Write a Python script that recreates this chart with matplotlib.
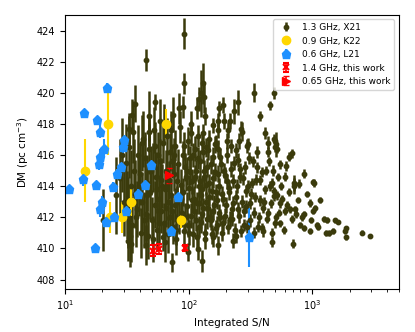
import matplotlib
matplotlib.use("Agg")
import matplotlib.pyplot as plt

# 1.3 GHz, X21 (S/N, DM, DM error)
x21_sn = [
    28, 30, 31, 32, 33, 34, 35, 36, 37, 38, 39, 40, 41, 42, 43, 44, 45, 46, 47, 48,
    49, 50, 51, 52, 53, 54, 55, 56, 57, 58, 59, 60,
    61, 62, 63, 64, 65, 66, 67, 68, 69, 70, 71, 72, 73, 74, 75, 76, 77, 78, 79, 80,
    82, 84, 85, 86, 88, 89, 90, 92, 93, 95, 96, 98, 99, 100, 102, 104, 105, 107, 108,
    110, 112, 114, 115, 117, 118, 120,
    122, 124, 126, 128, 130, 133, 135, 138, 140, 142, 145, 147, 150, 153, 156, 158,
    162, 165, 168, 172, 175, 178, 182, 186, 190, 195, 200, 205, 210, 215, 220, 225,
    230, 236, 242, 248,
    255, 262, 270, 278, 285, 292, 300, 310, 320, 330, 340, 350, 362, 375, 388, 400,
    415, 430, 445, 460, 475, 495, 515, 535, 560, 585,
    620, 650, 680, 720, 760, 800, 850, 900, 980, 1050, 1120,
    # outliers and edges
    91.6, 44.8, 91.6, 53.7, 90, 37, 34.8, 32.8, 48, 105, 122,
    339, 492, 454, 380, 248, 188, 176, 232, 192, 171, 157, 172, 208, 270, 202, 165,
    256, 414, 440, 496, 296, 354, 435, 513, 240, 137, 130, 126, 133,
    508, 690, 650, 850, 1030, 780, 710, 483, 610, 548, 600, 1160, 950, 1010, 1230,
    1320, 1530, 1620, 1860, 1880, 1470, 1280, 1090, 950, 850, 700, 820, 740, 660,
    548, 485, 2510, 2950, 1840, 1350, 1020, 710, 485, 500, 300, 263, 215, 130, 116,
    135, 127, 173, 158, 228, 467, 395, 20.2, 25.6, 32, 32, 34, 44.7, 118, 98, 62, 73,
    # dense core, second pass
    101, 103, 106, 109, 111, 113, 116, 119, 121, 123, 125, 127, 129, 131, 134, 136,
    139, 141, 144, 146, 149, 152, 155, 157, 160, 163, 166, 170, 173, 176, 180, 184,
    188, 192, 197, 202, 207, 212, 218, 223, 228, 233, 239, 245, 251, 258, 265, 272,
    280, 288, 296, 305, 315, 325, 335, 345, 356, 368, 380, 394, 408, 422, 438, 452,
    468, 485, 505, 525, 548, 572, 598,
    29, 31.5, 33.5, 35.5, 37.5, 39.5, 41.5, 43.5, 45.5, 47.5, 49.5, 51.5, 53.5, 55.5,
    57.5, 59.5, 62.5, 64.5, 66.5, 68.5, 71.5, 73.5, 76.5, 78.5, 81, 83, 87, 91, 94, 97,
]
x21_dm = [
    414.5, 413.0, 415.5, 412.0, 416.5, 414.0, 411.5, 415.0, 413.5, 412.5, 416.0, 414.8,
    411.0, 413.0, 417.0, 415.8, 412.2, 414.2, 410.8, 416.4,
    413.6, 411.8, 415.2, 417.6, 412.8, 414.6, 411.2, 416.0, 413.2, 418.2, 415.6, 412.4,
    414.0, 416.8, 411.6, 413.8, 415.0, 412.6, 417.2, 410.9, 414.4, 416.2, 412.0, 413.4,
    415.6, 411.4, 418.6, 414.8, 412.8, 416.6, 410.6, 413.0,
    415.4, 411.9, 417.8, 414.1, 412.3, 416.0, 413.6, 411.1, 415.2, 414.6, 412.7, 416.9,
    411.5, 413.9, 415.8, 412.1, 418.0, 414.3, 410.9,
    413.2, 416.4, 411.8, 415.0, 412.9, 417.2, 414.0,
    411.4, 415.6, 413.4, 412.2, 416.2, 414.6, 411.0, 413.0, 415.2, 412.6, 417.0, 414.2,
    411.8, 413.7, 415.9, 412.4,
    414.9, 411.3, 413.1, 416.4, 414.0, 412.0, 415.4, 413.5, 411.6, 414.7, 412.8, 416.0,
    413.9, 411.9, 415.1, 412.5,
    414.3, 411.2, 413.3, 415.7,
    412.1, 414.6, 413.0, 411.5, 415.2, 412.7, 414.0, 411.8, 413.5, 415.6, 412.3, 414.4,
    411.4, 413.1, 414.9, 412.6,
    413.8, 411.9, 415.6, 412.9, 414.2, 411.6, 413.4, 412.3, 414.0, 411.2,
    412.8, 413.6, 411.9, 412.5, 413.1, 411.5, 412.2, 413.5, 411.8, 412.6, 411.4,
    423.8, 422.1, 420.6, 419.4, 419.1, 419.3, 418.6, 417.7, 417.5, 417.4, 419.6,
    420.0, 420.0, 419.2, 418.5, 419.4, 419.2, 419.0, 418.8, 418.2, 418.2, 417.9, 417.6,
    417.6, 417.5, 416.9, 416.8,
    416.9, 417.4, 416.8, 416.9, 416.6, 416.2, 416.2, 416.4, 416.3, 416.5, 417.4, 419.96,
    419.7,
    416.7, 416.1, 415.9, 414.8, 414.2, 414.15, 414.2, 415.0, 415.3, 415.4, 414.6, 413.1,
    412.9, 412.4, 411.9,
    411.8, 411.8, 411.7, 411.3, 410.7, 411.1, 411.0, 411.5, 411.1, 411.3, 410.3, 412.0,
    412.2, 412.5,
    412.9, 413.35, 411.0, 410.8, 411.1, 411.0, 414.26, 414.0, 417.06, 416.5, 416.7,
    417.7, 418.2, 420.6, 419.0,
    418.5, 409.2, 410.2, 410.7, 410.5, 410.4, 411.1, 411.8, 413.4, 412.4, 410.5, 410.3,
    410.2, 409.96, 409.76, 410.7, 409.1,
    411.0, 414.9, 413.1, 416.0, 412.4, 414.6, 410.7, 415.8, 412.9, 414.3, 411.7, 416.8,
    413.8, 412.6, 415.0, 410.6,
    414.1, 411.9, 416.3, 413.3, 412.0, 415.4, 410.9, 414.5, 412.8, 416.7, 413.6, 411.5,
    414.8, 412.3, 415.9, 411.0,
    413.2, 415.0, 412.1, 414.3, 411.4, 413.6, 416.6, 411.9, 412.9, 415.5, 410.8, 414.0,
    412.5, 415.1, 411.1, 414.5,
    412.4, 413.7, 411.4, 415.8, 412.9, 414.2, 411.0, 413.3, 415.2, 412.0, 414.4, 411.3,
    413.0, 415.0, 412.3, 414.0,
    411.0, 413.7, 412.0, 414.6, 411.6, 413.2, 412.4,
    416.0, 412.8, 410.8, 417.5, 412.0, 414.0, 416.8, 411.8, 413.4, 418.5, 415.0, 410.6,
    416.6, 413.8,
    411.6, 414.4, 418.0, 410.4, 414.9, 413.0, 417.6, 412.4, 416.0, 411.2, 414.3, 419.0,
    413.2, 416.6, 412.0, 415.0,
]
x21_err = [
    2.5, 2.2, 2.5, 2.0, 2.0, 2.3, 1.8, 2.0, 2.2, 1.8, 1.9, 2.0, 1.6, 1.9, 1.8, 1.7, 1.7,
    1.8, 1.5, 1.6,
    1.7, 1.5, 1.6, 1.5, 1.5, 1.6, 1.4, 1.5, 1.5, 1.4, 1.4, 1.4,
    1.4, 1.3, 1.3, 1.3, 1.3, 1.2, 1.2, 1.2, 1.2, 1.2, 1.2, 1.1, 1.1, 1.1, 1.1, 1.1, 1.1,
    1.0, 1.0, 1.0,
    1.0, 1.0, 1.0, 1.0, 0.9, 0.9, 0.9, 0.9, 0.9, 0.9, 0.9, 0.9, 0.8, 0.8, 0.8, 0.8, 0.8,
    0.8, 0.8,
    0.8, 0.8, 0.7, 0.7, 0.7, 0.7, 0.7,
    0.7, 0.7, 0.7, 0.7, 0.7, 0.7, 0.6, 0.6, 0.6, 0.6, 0.6, 0.6, 0.6, 0.6, 0.6, 0.6,
    0.6, 0.55, 0.55, 0.55, 0.55, 0.55, 0.55, 0.5, 0.5, 0.5, 0.5, 0.5, 0.5, 0.5, 0.5, 0.45,
    0.45, 0.45, 0.45, 0.45,
    0.45, 0.4, 0.4, 0.4, 0.4, 0.4, 0.4, 0.4, 0.35, 0.35, 0.35, 0.35, 0.35, 0.35, 0.3, 0.3,
    0.3, 0.3, 0.3, 0.3, 0.3, 0.3, 0.3, 0.25, 0.25, 0.25,
    0.25, 0.25, 0.25, 0.2, 0.2, 0.2, 0.2, 0.2, 0.2, 0.2, 0.2,
    1.0, 0.7, 0.65, 0.5, 0.7, 1.2, 1.0, 1.0, 0.9, 0.8, 0.8,
    0.6, 0.4, 0.3, 0.3, 0.8, 0.5, 0.5, 0.8, 0.5, 0.5, 0.5, 0.5, 0.5, 0.6, 0.5, 0.5,
    0.5, 0.4, 0.4, 0.3, 0.45, 0.4, 0.3, 0.3, 0.5, 0.6, 0.6, 1.5, 1.0,
    0.8, 0.3, 0.3, 0.3, 0.25, 0.3, 0.5, 0.35, 0.3, 0.3, 0.3, 0.2, 0.25, 0.2, 0.2,
    0.2, 0.15, 0.15, 0.15, 0.15, 0.2, 0.2, 0.2, 0.2, 0.2, 0.3, 0.25, 0.25, 0.25,
    0.3, 0.3, 0.15, 0.15, 0.15, 0.2, 0.2, 0.5, 0.3, 0.3, 0.4, 0.5, 0.5, 1.3, 0.7,
    0.6, 0.7, 0.6, 0.6, 0.5, 0.3, 0.4, 2.0, 2.5, 2.2, 1.3, 1.2, 1.3, 0.7, 0.6, 0.9, 0.6,
    0.8, 0.8, 0.8, 0.75, 0.75, 0.75, 0.7, 0.7, 0.7, 0.7, 0.7, 0.7, 0.7, 0.65, 0.65, 0.65,
    0.65, 0.65, 0.6, 0.6, 0.6, 0.6, 0.6, 0.6, 0.6, 0.55, 0.55, 0.55, 0.55, 0.55, 0.55,
    0.5, 0.5, 0.5, 0.5, 0.5, 0.5, 0.5, 0.45, 0.45, 0.45, 0.45, 0.45, 0.45, 0.45, 0.4, 0.4,
    0.4, 0.4, 0.4, 0.4, 0.4, 0.35, 0.35, 0.35, 0.35, 0.35, 0.35, 0.3, 0.3, 0.3, 0.3,
    0.3, 0.3, 0.3, 0.25, 0.25, 0.25, 0.25, 0.25, 0.25,
    2.4, 2.2, 2.0, 2.0, 1.9, 1.9, 1.8, 1.8, 1.7, 1.6, 1.6, 1.5, 1.5, 1.5, 1.4, 1.4, 1.3,
    1.3, 1.2, 1.2, 1.2, 1.1, 1.1, 1.0, 1.0, 1.0, 1.0, 0.9, 0.9, 0.9,
]

# 0.9 GHz, K22
k22_sn = [22.4, 14.5, 22.9, 28.6, 33.9, 65.9, 85.8]
k22_dm = [418.0, 415.0, 412.0, 412.0, 413.0, 418.0, 411.8]
k22_err = [2.0, 2.0, 1.0, 1.0, 0.9, 0.95, 0.5]

# 0.6 GHz, L21
l21_sn = [21.9, 14.2, 18.0, 19.0, 20.6, 19.0, 18.7, 29.9, 29.3, 28.4, 26.2, 13.9,
          10.7, 17.6, 24.3, 20.0, 19.0, 21.5, 25.0, 31.0, 17.3, 49.8, 44.0, 38.8,
          81.9, 72.4, 308]
l21_dm = [420.3, 418.67, 418.24, 417.5, 416.4, 415.9, 415.45, 416.95, 416.5, 415.2,
          414.8, 414.48, 413.83, 414.06, 413.94, 412.97, 412.54, 411.7, 412.0, 412.43,
          410.03, 415.34, 414.05, 413.5, 413.3, 411.14, 410.7]
l21_err = [0.3, 0.2, 0.2, 0.4, 0.6, 0.5, 0.4, 0.3, 0.4, 0.3, 0.3, 0.5,
           0.2, 0.3, 0.3, 0.4, 0.5, 0.3, 0.3, 0.3, 0.2, 0.2, 0.3, 0.3,
           0.2, 0.2, 1.9]

# this work
l_sn = [51.3, 57.4, 92.9]
l_dm = [409.85, 409.96, 410.03]
l_err = [0.35, 0.35, 0.2]

u_sn = [69.2]
u_dm = [414.69]
u_err = [0.5]

fig = plt.figure(figsize=(4.15, 3.32), dpi=100)
ax = fig.add_axes([0.157, 0.13, 0.804, 0.825])

olive = "#3b3b0c"
ax.errorbar(x21_sn, x21_dm, yerr=x21_err, fmt="o", color=olive, ecolor=olive,
            ms=3.2, elinewidth=1.8, label="1.3 GHz, X21")
ax.errorbar(k22_sn, k22_dm, yerr=k22_err, fmt="o", color="gold", ecolor="gold",
            ms=6, elinewidth=1.5, label="0.9 GHz, K22")
ax.errorbar(l21_sn, l21_dm, yerr=l21_err, fmt="p", color="#1e90ff", ecolor="#1e90ff",
            ms=6.5, elinewidth=1.5, label="0.6 GHz, L21")
ax.errorbar(l_sn, l_dm, yerr=l_err, fmt="x", color="red", ecolor="red", ms=5,
            mew=1.5, capsize=2.5, elinewidth=1.2, label="1.4 GHz, this work")
ax.errorbar(u_sn, u_dm, yerr=u_err, fmt=">", color="red", ecolor="red", ms=5.5,
            capsize=2.5, elinewidth=1.2, label="0.65 GHz, this work")

ax.set_xscale("log")
ax.set_xlim(10, 5000)
ax.set_ylim(407.4, 425)
ax.set_yticks(range(408, 425, 2))
ax.tick_params(labelsize=7)
ax.set_xlabel("Integrated S/N", fontsize=7.5)
ax.set_ylabel("DM (pc cm$^{-3}$)", fontsize=7.5)
ax.legend(loc="upper right", fontsize=6.5)

fig.savefig("out.png", dpi=100)
